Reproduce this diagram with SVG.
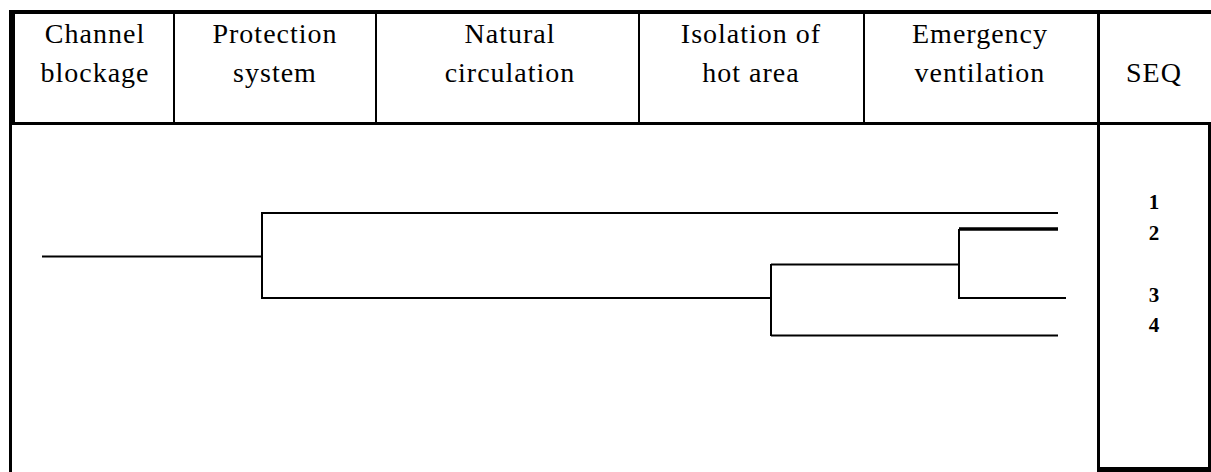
<svg xmlns="http://www.w3.org/2000/svg" width="1211" height="472" viewBox="0 0 1211 472">
<style>
.hd{font-family:"Liberation Serif","Times New Roman",serif;font-size:28px;letter-spacing:1px;fill:#000;text-anchor:middle}
.num{font-family:"Liberation Serif","Times New Roman",serif;font-size:21px;font-weight:bold;fill:#000;text-anchor:middle}
.br{stroke:#000;stroke-width:2;fill:none}
</style>
<rect width="1211" height="472" fill="#fff"/>
<g id="table">
<rect x="9" y="10" width="1202" height="4" fill="#000"/>
<rect x="9" y="10" width="6" height="113" fill="#000"/>
<rect x="9" y="123" width="3" height="349" fill="#000"/>
<rect x="9" y="122" width="1202" height="3" fill="#000"/>
<rect x="173" y="10" width="2" height="114" fill="#000"/>
<rect x="375" y="10" width="2" height="114" fill="#000"/>
<rect x="638" y="10" width="2" height="114" fill="#000"/>
<rect x="863" y="10" width="2" height="114" fill="#000"/>
<rect x="1097" y="10" width="3" height="462" fill="#000"/>
<rect x="1208" y="123" width="3" height="349" fill="#000"/>
<rect x="1097" y="467" width="114" height="5" fill="#000"/>
</g>
<g id="headers">
<g id="h1"><text class="hd" x="95" y="43">Channel</text><text class="hd" x="95" y="82">blockage</text></g>
<g id="h2"><text class="hd" x="275" y="43">Protection</text><text class="hd" x="275" y="82">system</text></g>
<g id="h3"><text class="hd" x="510" y="43">Natural</text><text class="hd" x="510" y="82">circulation</text></g>
<g id="h4"><text class="hd" x="751" y="43">Isolation of</text><text class="hd" x="751" y="82">hot area</text></g>
<g id="h5"><text class="hd" x="980" y="43">Emergency</text><text class="hd" x="980" y="82">ventilation</text></g>
<g id="h6"><text class="hd" x="1154" y="82">SEQ</text></g>
</g>
<g id="connectors">
<path class="br" d="M42 256.5 H262 M262 212 V299 M262 213 H1058 M262 298 H771 M771 264 V336 M771 264.5 H960 M771 335.5 H1058 M959 229 V299 M959 298 H1066"/>
<path d="M959 229 H1058" stroke="#000" stroke-width="3.5" fill="none"/>
</g>
<g id="seq">
<text class="num" x="1154" y="209">1</text>
<text class="num" x="1154" y="240">2</text>
<text class="num" x="1154" y="302">3</text>
<text class="num" x="1154" y="332">4</text>
</g>
</svg>
